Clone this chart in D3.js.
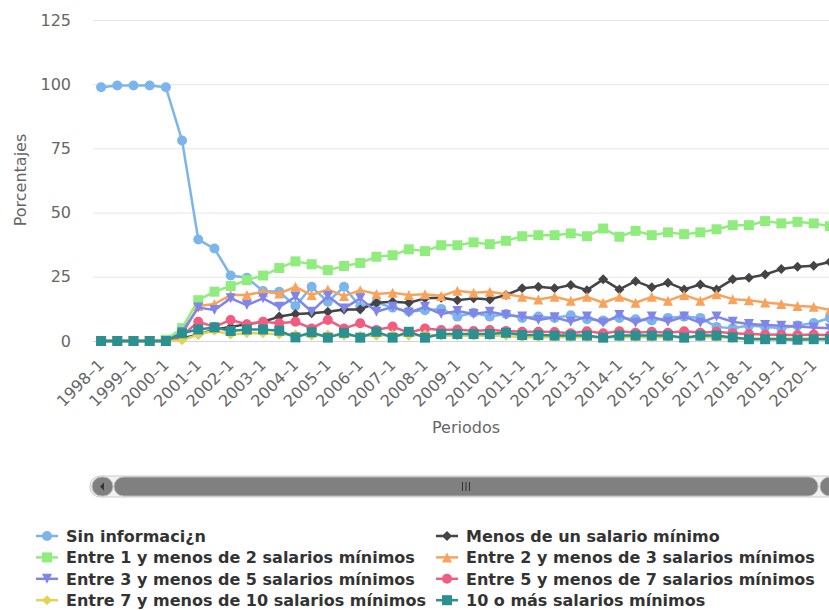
<!DOCTYPE html>
<html><head><meta charset="utf-8">
<script src="https://cdn.jsdelivr.net/npm/d3@7"></script>
<style>body{margin:0;background:#fff}svg{display:block;font-family:"DejaVu Sans",sans-serif}</style>
</head><body><svg id="c" width="829" height="610"></svg>
<script>
const periods = [];
for (let y = 1998; y <= 2020; y++) { periods.push(y + "–1"); periods.push(y + "–2"); }
const tickLabels = periods.filter((p, i) => i % 2 === 0);
const yTicks = [0, 25, 50, 75, 100, 125];

const sinInfo = [98.8,99.5,99.5,99.5,98.8,78.1,39.5,36.0,25.5,24.6,19.5,19.2,13.6,21.1,15.3,21.1,13.3,15.0,13.0,11.5,12.0,12.5,9.5,11.0,9.5,10.5,9.0,9.5,9.0,10.0,8.5,8.0,9.0,8.5,8.0,9.0,9.5,9.0,5.5,5.0,6.0,5.5,5.0,6.0,7.0,9.0];
const menosUno = [0,0,0,0,0,1.0,2.5,4.5,5.5,6.5,7.5,9.5,10.5,10.8,11.4,12.3,12.3,14.9,15.3,14.9,16.6,16.8,15.9,16.6,16.2,17.9,20.5,21.1,20.5,21.8,19.8,24.0,20.1,23.3,20.9,22.7,20.1,22.0,20.1,24.0,24.6,25.9,28.0,28.9,29.3,30.8];
const entre1y2 = [0,0,0,0,0.5,5.0,15.9,19.2,21.4,23.7,25.5,28.4,31.0,29.9,27.6,29.2,30.4,32.8,33.4,35.7,35.0,37.3,37.3,38.4,37.7,39.0,40.8,41.2,41.2,41.9,40.8,43.8,40.6,42.9,41.2,42.3,41.6,42.3,43.5,45.1,45.1,46.7,45.8,46.4,45.8,44.7];
const entre2y3 = [0,0,0,0,0,2.5,13.6,14.4,17.9,17.9,19.2,18.5,21.1,17.9,20.1,17.5,19.8,18.3,18.8,17.9,18.2,17.5,19.6,18.8,19.2,18.2,17.2,16.2,17.2,15.7,17.2,14.9,17.2,14.9,17.2,15.7,17.9,15.7,18.2,16.3,15.9,15.0,14.4,13.6,13.3,12.1];
const entre3y5 = [0,0,0,0,0,3.5,13.0,12.1,16.6,14.0,16.6,13.3,17.2,11.4,17.5,12.7,16.6,11.4,13.3,11.0,13.3,10.5,11.7,10.5,11.4,10.1,9.5,8.2,9.2,7.5,9.5,7.1,10.1,7.1,9.5,7.5,9.5,7.1,9.5,7.5,6.6,6.2,5.9,5.6,5.3,4.9];
const entre5y7 = [0,0,0,0,0,2.0,7.5,5.5,8.2,6.5,7.5,6.9,7.5,4.9,8.2,4.9,6.9,4.3,5.6,3.2,4.9,4.3,4.5,3.9,4.3,3.9,3.6,3.6,3.5,3.0,3.8,3.0,3.8,3.2,3.6,3.2,3.8,3.2,3.6,3.0,2.7,2.5,2.4,2.3,2.5,2.2];
const entre7y10 = [0,0,0,0,0,0.3,2.5,4.0,2.5,3.0,3.0,2.5,2.5,2.0,2.5,2.0,2.0,2.0,2.5,2.0,2.5,2.0,2.0,2.0,2.0,2.0,1.5,1.5,1.5,1.5,1.5,1.5,1.5,1.5,1.5,1.5,1.5,1.5,1.5,1.2,1.0,1.0,1.0,1.0,1.0,1.0];
const diezOMas = [0,0,0,0,0,3.0,4.5,5.3,3.9,4.5,4.5,4.0,1.4,3.4,1.3,3.2,1.3,3.6,1.3,3.6,1.3,2.7,2.7,2.7,2.7,3.2,2.3,2.3,2.1,2.1,2.1,1.3,2.1,2.1,2.1,2.1,1.3,2.1,2.1,1.4,0.7,0.7,0.7,0.5,0.7,0.7];

const seriesNames = ["Sin informaci¿n","Menos de un salario mínimo","Entre 1 y menos de 2 salarios mínimos","Entre 2 y menos de 3 salarios mínimos","Entre 3 y menos de 5 salarios mínimos","Entre 5 y menos de 7 salarios mínimos","Entre 7 y menos de 10 salarios mínimos","10 o más salarios mínimos"];
const seriesValues = [sinInfo, menosUno, entre1y2, entre2y3, entre3y5, entre5y7, entre7y10, diezOMas];
const seriesColors = ["#7cb5ec","#434348","#90ed7d","#f7a35c","#8085e9","#f15c80","#e4d354","#2b908f"];
const seriesSymbols = ["circle","diamond","square","triangle","triangle-down","circle","diamond","square"];

const svg = d3.select("#c");
const L = 93, R = 838, T = 20, B = 341;
const x = d3.scaleBand().domain(periods).range([L, R]).padding(0);
const cx = p => x(p) + x.bandwidth() / 2;
const y = d3.scaleLinear().domain([0, 125]).range([B, T]);

// grid
const yAxis = d3.axisLeft(y).tickValues(yTicks).tickSize(-(R - L)).tickPadding(22);
const gy = svg.append("g").attr("transform", `translate(${L},0)`).call(yAxis);
gy.select(".domain").remove();
gy.selectAll(".tick line").attr("stroke", "#e6e6e6").attr("stroke-width", 1);
gy.selectAll(".tick text").attr("fill", "#666").attr("font-size", 16).attr("font-family", "DejaVu Sans");
gy.selectAll(".tick").filter(d => d === 0).select("line").attr("stroke", "none");

// x axis
const xAxis = d3.axisBottom(x).tickValues(tickLabels).tickSize(0).tickFormat(d => d);
const gx = svg.append("g").attr("transform", `translate(0,${B})`).call(xAxis);
gx.select(".domain").attr("stroke", "#ccd6eb").attr("d", `M${L},0.5H${R}`);
gx.selectAll(".tick text")
  .attr("fill", "#666").attr("font-size", 16).attr("font-family", "DejaVu Sans")
  .attr("text-anchor", "end").attr("dy", null).attr("y", 0)
  .attr("transform", "translate(4,25) rotate(-45)");

// titles
svg.append("text").attr("x", 466).attr("y", 433).attr("text-anchor", "middle")
  .attr("fill", "#666").attr("font-size", 16).text("Periodos");
svg.append("text").attr("transform", "translate(26,180) rotate(-90)").attr("text-anchor", "middle")
  .attr("fill", "#666").attr("font-size", 16).text("Porcentajes");

function symbolPath(type, px, py, r) {
  switch (type) {
    case "circle": return `M${px - r},${py}a${r},${r} 0 1,0 ${2 * r},0a${r},${r} 0 1,0 ${-2 * r},0Z`;
    case "square": return `M${px - r},${py - r}h${2 * r}v${2 * r}h${-2 * r}Z`;
    case "diamond": return `M${px},${py - r}L${px + r},${py}L${px},${py + r}L${px - r},${py}Z`;
    case "triangle": return `M${px},${py - r}L${px + r},${py + r}L${px - r},${py + r}Z`;
    case "triangle-down": return `M${px - r},${py - r}L${px + r},${py - r}L${px},${py + r}Z`;
  }
}

const line = d3.line().x((d, i) => cx(periods[i])).y(d => y(d));
const plot = svg.append("g");
seriesValues.forEach((vals, s) => {
  const g = plot.append("g");
  g.append("path").attr("d", line(vals)).attr("fill", "none")
    .attr("stroke", seriesColors[s]).attr("stroke-width", 2.5).attr("stroke-linejoin", "round");
  g.selectAll("path.m").data(vals).enter().append("path").attr("class", "m")
    .attr("d", (d, i) => symbolPath(seriesSymbols[s], cx(periods[i]), y(d), 5))
    .attr("fill", seriesColors[s]);
});

// scrollbar
const sb = svg.append("g");
sb.append("rect").attr("x", 90).attr("y", 476).attr("width", 752).attr("height", 21).attr("rx", 10)
  .attr("fill", "#f2f2f2").attr("stroke", "#cccccc");
sb.append("rect").attr("x", 92).attr("y", 477).attr("width", 21).attr("height", 19).attr("rx", 9.5).attr("fill", "#808080").attr("stroke", "#bbb");
sb.append("path").attr("d", "M100,486.5L104,482.5L104,490.5Z").attr("fill", "#333");
sb.append("rect").attr("x", 114).attr("y", 477).attr("width", 704).attr("height", 19).attr("rx", 9.5).attr("fill", "#808080").attr("stroke", "#bbb");
sb.append("rect").attr("x", 820).attr("y", 477).attr("width", 21).attr("height", 19).attr("rx", 9.5).attr("fill", "#808080").attr("stroke", "#bbb");
sb.append("path").attr("d", "M833,486.5L829,482.5L829,490.5Z").attr("fill", "#333");
[462.5, 466, 469.5].forEach(gxp => sb.append("line").attr("x1", gxp).attr("x2", gxp).attr("y1", 482).attr("y2", 491).attr("stroke", "#333").attr("stroke-width", 1));

// legend
const leg = svg.append("g");
seriesNames.forEach((name, s) => {
  const col = s % 2, row = Math.floor(s / 2);
  const lx = col === 0 ? 36 : 436, ly = 536 + row * 21.4;
  leg.append("path").attr("d", `M${lx},${ly}H${lx + 22}`).attr("stroke", seriesColors[s]).attr("stroke-width", 2.5);
  leg.append("path").attr("d", symbolPath(seriesSymbols[s], lx + 11, ly, 5)).attr("fill", seriesColors[s]);
  leg.append("text").attr("x", lx + 30).attr("y", ly + 6).attr("fill", "#333")
    .attr("font-size", 16).attr("font-weight", "bold").text(name);
});
</script></body></html>
